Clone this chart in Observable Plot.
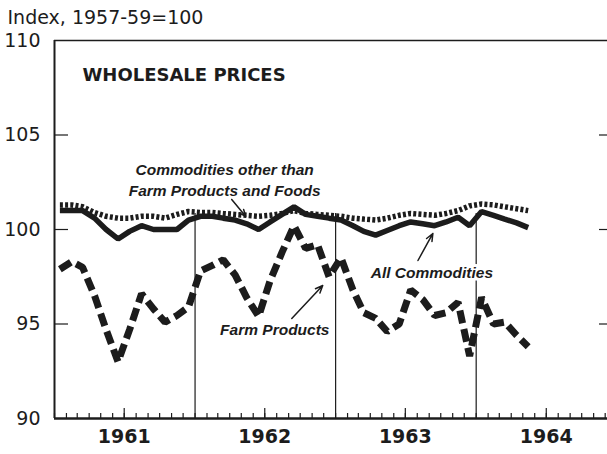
<!DOCTYPE html>
<html><head><meta charset="utf-8">
<script src="https://cdn.jsdelivr.net/npm/d3@7"></script>
<script src="https://cdn.jsdelivr.net/npm/@observablehq/plot@0.6"></script>
<style>body{margin:0;background:#fff} svg{display:block}</style>
</head><body><div id="chart"></div>
<script>
// Monthly index values, Jan 1961 – May 1964 (1957-59 = 100)
const allCommodities = [
  101.0, 101.0, 101.0, 100.6, 100.0, 99.5, 99.9, 100.2, 100.0, 100.0, 100.0, 100.5,
  100.7, 100.7, 100.6, 100.5, 100.3, 100.0, 100.4, 100.8, 101.2, 100.8, 100.7, 100.6,
  100.5, 100.2, 99.9, 99.7, 99.95, 100.2, 100.4, 100.3, 100.2, 100.4, 100.65, 100.2,
  100.95, 100.75, 100.55, 100.35, 100.1
];
const otherThanFarmAndFoods = [
  101.3, 101.3, 101.2, 100.9, 100.7, 100.6, 100.6, 100.7, 100.7, 100.6, 100.8, 100.95,
  100.9, 100.9, 100.85, 100.8, 100.75, 100.7, 100.75, 100.85, 101.0, 100.85, 100.8, 100.75,
  100.7, 100.6, 100.55, 100.5, 100.6, 100.75, 100.85, 100.8, 100.75, 100.85, 101.0, 101.25,
  101.35, 101.3, 101.2, 101.1, 101.0
];
const farmProducts = [
  97.9, 98.3, 98.0, 96.5, 94.7, 93.0, 94.7, 96.6, 95.8, 95.1, 95.45, 95.9,
  97.8, 98.1, 98.4, 97.6, 96.4, 95.4, 97.3, 98.8, 100.2, 99.0, 99.2, 97.5,
  98.5, 96.8, 95.6, 95.3, 94.6, 95.0, 96.8, 96.3, 95.45, 95.6, 96.15, 93.3,
  96.4, 95.0, 95.1, 94.4, 93.8
];
const yTickLabels = [90, 95, 100, 105, 110];
const yInnerTicks = [95, 100, 105];
const yearLabels = [1961, 1962, 1963, 1964];
const yearLines = [1962, 1963, 1964];

const startYear = 1961;
const months = allCommodities.map((_, i) => new Date(Date.UTC(startYear, i, 15)));
const rows = (vals) => vals.map((v, i) => ({date: months[i], value: v}));

const W = 607, H = 454;
const mL = 54, mR = 0, mT = 40, mB = 36;
const frameW = W - mL - mR, frameH = H - mT - mB;
const x0 = new Date(Date.UTC(1961, 0, 1)), x1 = new Date(Date.UTC(1964, 11, 7));
const yr = f => new Date(Date.UTC(1961, 0, 1) + (f - 1961) * 365.25 * 864e5);

const monthTicks = d3.utcMonth.range(x0, x1);
const midYearTicks = yearLabels.map(y => new Date(Date.UTC(y, 6, 1)));

const ink = "#1c1c1c";
const labelFont = "Liberation Sans, Arial, sans-serif";

const labels = [
  {t: "Commodities other than", x: 1962.21, y: 103.17},
  {t: "Farm Products and Foods", x: 1962.21, y: 102.06},
  {t: "Farm Products", x: 1962.566, y: 94.66}
];
const arrows = [
  {x1: 1962.26, y1: 101.59, x2: 1962.36, y2: 100.69},
  {x1: 1963.584, y1: 98.36, x2: 1963.690, y2: 99.79},
  {x1: 1962.687, y1: 95.29, x2: 1962.907, y2: 97.04}
];

const chart = Plot.plot({
  width: W, height: H,
  marginLeft: mL, marginRight: mR, marginTop: mT, marginBottom: mB,
  style: {fontFamily: "DejaVu Sans, sans-serif", color: ink, background: "#fff"},
  x: {type: "utc", domain: [x0, x1]},
  y: {domain: [90, 110]},
  marks: [
    // frame
    Plot.ruleY([110], {stroke: ink, strokeWidth: 1.5}),
    Plot.ruleX([x0], {stroke: ink, strokeWidth: 2}),
    // year boundary lines
    Plot.ruleX(yearLines.map(y => new Date(Date.UTC(y, 0, 1))), {y1: 90, y2: 100.85, stroke: ink, strokeWidth: 1.2}),
    // month ticks
    Plot.tickX(monthTicks, {x: d => d, stroke: ink, strokeWidth: 1.2, insetTop: frameH - 5}),
    Plot.tickX(midYearTicks, {x: d => d, stroke: ink, strokeWidth: 1.2, insetTop: frameH - 10}),
    // y ticks inside left and outside right
    Plot.tickY(yInnerTicks, {y: d => d, stroke: ink, strokeWidth: 1.2, insetRight: frameW - 14}),
    Plot.tickY(yInnerTicks, {y: d => d, stroke: ink, strokeWidth: 1.2, insetLeft: frameW - 8}),
    Plot.ruleY([90], {stroke: ink, strokeWidth: 2.5}),
    // series
    Plot.line(rows(otherThanFarmAndFoods), {x: "date", y: "value", stroke: ink, strokeWidth: 5.5, strokeDasharray: "3,2.2", strokeLinecap: "butt", strokeLinejoin: "miter"}),
    Plot.line(rows(allCommodities), {x: "date", y: "value", stroke: ink, strokeWidth: 5.5, strokeLinecap: "butt", strokeLinejoin: "miter"}),
    Plot.line(rows(farmProducts), {x: "date", y: "value", stroke: ink, strokeWidth: 7, strokeDasharray: "13,6", strokeLinecap: "butt", strokeLinejoin: "miter"}),
    // annotations
    Plot.text(["WHOLESALE PRICES"], {x: yr(1961.199), y: 108.15, textAnchor: "start", fontWeight: "bold", fontSize: 18, fill: ink}),
    Plot.text(labels, {x: d => yr(d.x), y: "y", text: "t", fontFamily: labelFont, fontWeight: "bold", fontStyle: "italic", fontSize: 15.5, fill: ink}),
    Plot.text(["All Commodities"], {x: yr(1963.683), y: 97.72, fontFamily: labelFont, fontWeight: "bold", fontStyle: "italic", fontSize: 15.5, fill: ink, stroke: "white", strokeWidth: 6, paintOrder: "stroke"}),
    Plot.arrow(arrows, {x1: d => yr(d.x1), y1: "y1", x2: d => yr(d.x2), y2: "y2", stroke: ink, strokeWidth: 1.5, headLength: 8, headAngle: 45}),
    Plot.text(["Index, 1957-59=100"], {frameAnchor: "top-left", dx: 7 - mL, dy: 17.5 - mT, lineAnchor: "middle", textAnchor: "start", fontSize: 19, fill: ink}),
    // axes
    Plot.axisY(yTickLabels, {anchor: "left", tickSize: 0, tickPadding: 14, fontSize: 19, fill: ink}),
    Plot.axisX(midYearTicks, {anchor: "bottom", tickSize: 0, tickPadding: 11, tickFormat: d3.utcFormat("%Y"), fontSize: 19, fontWeight: "bold", fill: ink})
  ]
});
document.getElementById("chart").append(chart);
</script>
</body></html>
